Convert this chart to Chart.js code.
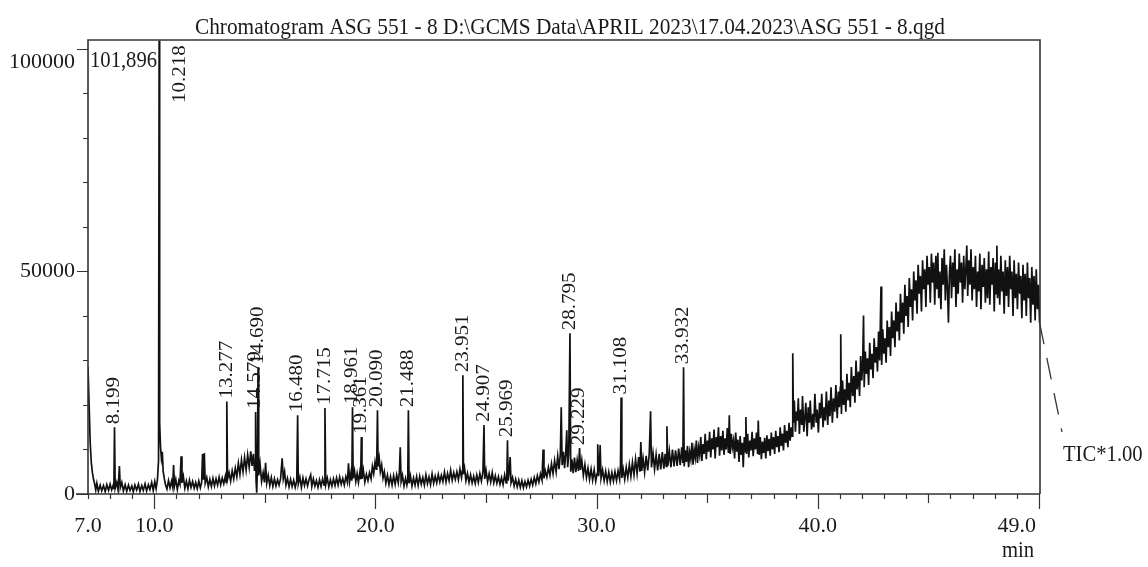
<!DOCTYPE html>
<html><head><meta charset="utf-8">
<script src="https://cdn.jsdelivr.net/npm/chart.js@4.4.0/dist/chart.umd.min.js"></script>
<style>html,body{margin:0;padding:0;background:#fff;}#wrap{width:1148px;height:567px;}</style>
</head><body><div id="wrap"><canvas id="c" width="1148" height="567"></canvas></div>
<script>
const chartTitle = 'Chromatogram ASG 551 - 8 D:\\GCMS Data\\APRIL 2023\\17.04.2023\\ASG 551 - 8.qgd';
const xTickValues = [7.0, 10.0, 20.0, 30.0, 40.0, 49.0];
const yTickValues = [0, 50000, 100000];
const maxIntensityLabel = '101,896';
const detectorLabel = 'TIC*1.00';
const xUnitLabel = 'min';
const peakTimes = [8.199, 10.218, 13.277, 14.579, 14.690, 16.480, 17.715, 18.961, 19.361, 20.090, 21.488, 23.951, 24.907, 25.969, 28.795, 29.229, 31.108, 33.932];
const peakLabels = ['8.199', '10.218', '13.277', '14.579', '14.690', '16.480', '17.715', '18.961', '19.361', '20.090', '21.488', '23.951', '24.907', '25.969', '28.795', '29.229', '31.108', '33.932'];

// TIC trace: [retention time (min), intensity]
const traceSeg1 = [[7.00,28500],[7.05,20000],[7.10,11500],[7.15,7000],[7.20,4800],[7.25,3300],[7.30,2300],[7.35,900],[7.40,2400],[7.47,600],[7.55,2000],[7.62,700],[7.70,1900],[7.78,500],[7.85,2100],[7.93,800],[8.00,2200],[8.07,900],[8.14,2000],[8.17,1100],[8.199,15000],[8.23,1300],[8.30,2600],[8.36,900],[8.42,6300],[8.46,1400],[8.53,2600],[8.60,700],[8.68,2100],[8.75,600],[8.83,2000],[8.90,800],[8.98,1800],[9.05,500],[9.12,2000],[9.20,900],[9.28,2200],[9.35,600],[9.43,1900],[9.50,800],[9.58,2300],[9.65,700],[9.73,2100],[9.80,1000],[9.88,2600],[9.95,800],[10.02,2800],[10.08,1200],[10.14,3200],[10.19,7500],[10.218,101896],[10.24,16000],[10.28,10500],[10.32,8000],[10.36,9500],[10.40,5000],[10.45,3500],[10.50,2200]];
const traceSeg2 = [[10.57,1100],[10.64,3000],[10.71,1400],[10.78,2900],[10.83,1600],[10.87,6500],[10.91,1800],[10.97,3300],[11.04,1000],[11.11,3000],[11.16,2200],[11.21,8500],[11.25,2500],[11.31,4000],[11.38,1300],[11.45,2900],[11.52,1200],[11.59,3100],[11.66,1500],[11.73,2800],[11.80,1300],[11.87,2600],[11.94,1200],[12.01,2900],[12.08,1400],[12.14,2600],[12.18,9000],[12.22,3200],[12.26,9200],[12.30,2400],[12.37,3700],[12.44,1600],[12.51,3300],[12.58,1700],[12.65,3500],[12.72,1800],[12.79,3400],[12.86,2000],[12.93,3800],[13.00,2100],[13.07,3600],[13.14,2300],[13.21,4000],[13.25,2600],[13.277,20800],[13.31,3300],[13.38,4800],[13.45,2900],[13.52,5200],[13.59,3400],[13.66,5800],[13.73,3900],[13.80,6900],[13.87,4400],[13.94,7600],[14.01,5000],[14.08,8200],[14.15,5400],[14.22,8800],[14.29,6000],[14.36,9600],[14.42,6300],[14.48,9000],[14.53,5200],[14.56,7000],[14.579,18400],[14.60,3000],[14.63,300],[14.66,6000],[14.690,28500],[14.72,4200],[14.78,6800],[14.85,2800],[14.92,4800],[14.98,2600],[15.03,7000],[15.08,2400],[15.15,4200],[15.22,1900],[15.29,3700],[15.36,1700],[15.43,3400],[15.50,1800],[15.57,3200],[15.64,2000],[15.71,3500],[15.78,8000],[15.83,3400],[15.89,5000],[15.95,2000],[16.02,3500],[16.09,1600],[16.16,3300],[16.23,1700],[16.30,3100],[16.37,1500],[16.44,3000],[16.480,17700],[16.51,2300],[16.58,3800],[16.65,1500],[16.72,3600],[16.79,1900],[16.86,3400],[16.93,1800],[17.00,3300],[17.07,4300],[17.12,1700],[17.19,3400],[17.26,1800],[17.33,3000],[17.40,1500],[17.47,3200],[17.54,1700],[17.61,3400],[17.68,2000],[17.715,19300],[17.75,2100],[17.82,3600],[17.89,1600],[17.96,3200],[18.03,1800],[18.10,3400],[18.17,1900],[18.24,3600],[18.31,2000],[18.38,3800],[18.45,2200],[18.52,3500],[18.59,2000],[18.66,3900],[18.73,2600],[18.78,6900],[18.83,2800],[18.89,4800],[18.93,3000],[18.961,19500],[18.99,3500],[19.05,5200],[19.11,2800],[19.17,4600],[19.23,2600],[19.29,4800],[19.33,3300],[19.361,12800],[19.39,3400],[19.45,5400],[19.52,2700],[19.59,4400],[19.66,3000],[19.73,4800],[19.80,3400],[19.86,6200],[19.92,4600],[19.98,7200],[20.03,5600],[20.06,8000],[20.090,18800],[20.12,6200],[20.17,8000],[20.22,5000],[20.28,6500]];
const traceSeg3 = [[20.34,3600],[20.40,5000],[20.47,2400],[20.54,4200],[20.61,2100],[20.68,3900],[20.75,2000],[20.82,4100],[20.89,2200],[20.96,4300],[21.03,2500],[21.08,4800],[21.12,10500],[21.16,2800],[21.22,4200],[21.29,1800],[21.36,3500],[21.42,2000],[21.46,3200],[21.488,18800],[21.52,2400],[21.58,4100],[21.65,1800],[21.72,3600],[21.79,2000],[21.86,3900],[21.93,1900],[22.00,4000],[22.07,2200],[22.14,3700],[22.21,2000],[22.28,4300],[22.35,2300],[22.42,3800],[22.49,2100],[22.56,4500],[22.63,2400],[22.70,4000],[22.77,2500],[22.84,4400],[22.91,2700],[22.98,4200],[23.05,2800],[23.12,4900],[23.19,2700],[23.26,4600],[23.33,3000],[23.40,5300],[23.47,3100],[23.54,4800],[23.61,3300],[23.68,5000],[23.75,3200],[23.82,5600],[23.89,3700],[23.93,5200],[23.951,26700],[23.98,4500],[24.03,5800],[24.09,3000],[24.16,4600],[24.23,2600],[24.30,4300],[24.37,2500],[24.44,4000],[24.51,2400],[24.58,4300],[24.65,2600],[24.72,4600],[24.79,2900],[24.86,5000],[24.907,15500],[24.94,3400],[25.00,5300],[25.07,2800],[25.14,4600],[25.21,2700],[25.28,4800],[25.35,2500],[25.42,4100],[25.49,2400],[25.56,3900],[25.63,2200],[25.70,3700],[25.77,2100],[25.84,4300],[25.91,2500],[25.94,3600],[25.969,12100],[26.00,3000],[26.05,5000],[26.09,8300],[26.13,2500],[26.20,3700],[26.27,1800],[26.34,3300],[26.41,1600],[26.48,3100],[26.55,1500],[26.62,3000],[26.69,1400],[26.76,2800],[26.83,1600],[26.90,3100],[26.97,1800],[27.04,3300],[27.11,2000],[27.18,3700],[27.25,2300],[27.32,4100],[27.39,2700],[27.46,4500],[27.53,3100],[27.58,10000],[27.62,3500],[27.68,5200],[27.75,3800],[27.82,6000],[27.89,4200],[27.96,6800],[28.03,4600],[28.10,7500],[28.17,5000],[28.24,8500],[28.30,5600],[28.36,9000],[28.40,19500],[28.44,6500],[28.50,9500],[28.55,5800],[28.60,8800],[28.65,14300],[28.69,6000],[28.74,9000],[28.795,36100],[28.83,5000],[28.88,7800],[28.94,4700],[29.00,8200],[29.06,4900],[29.12,7600],[29.18,5200],[29.229,10300],[29.27,5400],[29.33,7600],[29.40,4200],[29.47,6600]];
const traceSeg4 = [[29.54,3700],[29.61,5800],[29.68,3300],[29.75,5600],[29.82,3100],[29.89,5400],[29.96,2900],[30.02,4600],[30.05,11200],[30.09,4000],[30.13,6000],[30.16,11000],[30.20,3500],[30.27,5400],[30.34,3000],[30.41,5100],[30.48,2800],[30.55,4900],[30.62,2700],[30.69,4800],[30.76,2900],[30.83,5000],[30.90,3000],[30.97,5200],[31.04,3300],[31.08,6500],[31.108,21700],[31.14,3600],[31.20,5600],[31.27,3300],[31.34,6000],[31.41,3700],[31.48,6600],[31.55,4000],[31.62,7100],[31.69,4300],[31.76,7800],[31.83,4600],[31.90,8300],[31.96,5000],[32.00,11700],[32.04,5200],[32.10,8000],[32.17,4900],[32.24,8600],[32.31,5300],[32.38,9000],[32.44,18600],[32.48,6000],[32.55,9200],[32.62,5600],[32.69,8800],[32.76,5300],[32.83,9000],[32.90,5500],[32.97,9400],[33.04,5700],[33.10,9000],[33.15,6200],[33.18,15200],[33.22,6300],[33.29,9600],[33.36,6000],[33.43,10000],[33.50,6200],[33.57,9800],[33.64,6300],[33.71,10200],[33.78,6500],[33.85,10500],[33.90,7000],[33.932,28500],[33.96,6200],[34.01,9800],[34.06,7200],[34.11,10800],[34.16,6000],[34.21,9400],[34.26,7800],[34.31,11500],[34.36,6600],[34.41,10000],[34.46,8200],[34.51,12000],[34.56,7000],[34.61,10500],[34.66,8800],[34.71,12800],[34.76,7400],[34.81,11200],[34.86,9000],[34.91,13500],[34.96,7800],[35.01,12000],[35.06,9500],[35.11,14000],[35.16,8200],[35.21,12500],[35.26,10000],[35.31,14500],[35.36,8000],[35.41,12800],[35.46,10500],[35.51,15000],[35.56,8600],[35.61,13000],[35.66,9800],[35.71,14200],[35.76,8800],[35.81,12500],[35.86,10000],[35.91,14800],[35.96,9200],[36.00,17700],[36.04,9000],[36.09,13500],[36.14,10500],[36.19,12000],[36.24,8000],[36.29,13800],[36.34,9500],[36.39,12200],[36.44,7200],[36.49,13000],[36.54,8800],[36.59,11500],[36.63,6000],[36.68,12800],[36.72,9500],[36.75,17300],[36.78,9000],[36.83,13500],[36.88,8200],[36.93,12000],[36.98,9800],[37.03,14000],[37.08,8500],[37.13,12500],[37.18,10000],[37.23,13800],[37.28,9000],[37.31,16500],[37.35,8800],[37.40,12800],[37.45,7800],[37.50,11800],[37.55,9200],[37.60,12600],[37.65,8000],[37.70,13200],[37.75,9600],[37.80,12400],[37.85,8600],[37.90,13800],[37.95,10000],[38.00,12800],[38.05,9000],[38.10,14200],[38.15,10500],[38.20,13000],[38.25,9400],[38.30,15000],[38.35,10800],[38.40,13600],[38.45,9800],[38.50,15500],[38.55,11500],[38.60,14200],[38.65,10500],[38.70,16000],[38.75,12000],[38.80,15000],[38.84,13000]];
const traceSeg5 = [[38.87,31600],[38.90,16000],[38.94,21000],[38.99,14000],[39.03,18500],[39.08,16500],[39.12,21500],[39.17,13500],[39.22,19000],[39.28,15500],[39.31,22000],[39.37,14000],[39.42,17500],[39.46,20500],[39.52,13000],[39.57,19500],[39.62,16000],[39.66,21000],[39.72,14500],[39.78,18000],[39.82,15000],[39.87,22500],[39.93,16000],[39.97,19000],[40.03,13800],[40.08,20500],[40.13,17000],[40.18,22500],[40.24,15000],[40.29,19500],[40.34,16500],[40.39,23000],[40.45,15500],[40.50,21000],[40.55,17500],[40.60,24000],[40.66,16000],[40.71,21500],[40.77,18500],[40.82,24500],[40.88,17000],[40.93,23000],[40.98,19500],[41.02,24000],[41.04,35900],[41.07,18000],[41.12,25500],[41.17,20000],[41.22,23500],[41.27,18500],[41.32,27000],[41.37,21000],[41.42,25000],[41.47,19500],[41.52,28500],[41.58,22000],[41.63,26500],[41.68,20500],[41.73,30000],[41.78,23500],[41.84,27500],[41.89,22000],[41.94,31000],[41.99,25500],[42.03,29000],[42.07,40100],[42.10,24000],[42.15,32000],[42.20,27000],[42.25,30500],[42.30,24500],[42.35,34000],[42.40,28000],[42.45,31500],[42.50,26000],[42.55,35000],[42.60,29500],[42.65,33000],[42.70,27500],[42.75,36500],[42.80,30000],[42.86,46600],[42.89,29000],[42.94,37000],[42.99,31500],[43.04,35000],[43.09,29500],[43.14,39000],[43.19,33000],[43.24,37500],[43.29,31000],[43.34,41000],[43.39,35000],[43.44,39000],[43.49,33000],[43.54,43000],[43.59,36500],[43.64,41000],[43.69,34500],[43.74,45000],[43.79,38500],[43.84,43000],[43.89,36000],[43.94,47000],[43.99,40000],[44.04,44500],[44.09,37500],[44.14,48500],[44.19,42000],[44.24,46000],[44.29,39000],[44.34,50000],[44.39,43500],[44.44,48000],[44.49,40500],[44.54,51500],[44.59,45000],[44.64,49000],[44.69,41000],[44.74,52500],[44.79,46000],[44.84,50500],[44.89,42000],[44.94,53500],[44.99,47000],[45.04,51000],[45.09,43000],[45.14,54000],[45.19,47500],[45.24,52000],[45.29,42500],[45.34,53500],[45.39,46000],[45.43,54200],[45.47,44000],[45.52,50000],[45.57,41500],[45.62,53000],[45.67,47000],[45.72,55000],[45.77,43500],[45.82,51500],[45.87,45500],[45.91,38500],[45.95,49000],[46.00,53500],[46.05,44000],[46.10,52000],[46.15,46500],[46.20,55000],[46.25,42000],[46.30,50500],[46.35,45000],[46.40,54000],[46.45,47500],[46.50,52000],[46.55,43000],[46.60,53500],[46.65,46000],[46.70,51000],[46.74,55800],[46.78,44500],[46.83,52500],[46.88,47000],[46.93,55000],[46.98,43500],[47.03,51000],[47.08,46000],[47.13,53500],[47.18,42000],[47.23,50000],[47.28,45500],[47.33,54000],[47.38,41500],[47.43,51500],[47.48,46500],[47.53,53000],[47.58,43000],[47.63,50500],[47.68,44000],[47.73,54500],[47.78,42500],[47.83,51000],[47.88,47000],[47.93,53000],[47.98,41000],[48.03,52000],[48.07,45000],[48.10,55800],[48.13,44000],[48.18,50500],[48.23,42500],[48.28,53500],[48.33,45500],[48.38,50000],[48.43,40500],[48.48,52500],[48.53,44500],[48.58,51000],[48.63,42000],[48.68,53500],[48.73,46000],[48.78,50000],[48.83,40000],[48.88,52500],[48.93,44000],[48.98,49500],[49.03,41500],[49.08,52000],[49.13,45000],[49.18,49000],[49.23,39500],[49.28,51500],[49.33,43500],[49.38,49500],[49.43,40000],[49.48,52000],[49.53,44000],[49.58,48500],[49.63,38500],[49.68,51000],[49.73,42500],[49.78,49000],[49.83,39000],[49.88,50500],[49.93,41500],[49.98,47000],[50.03,38500]];

const SERIF = '"Liberation Serif", "Times New Roman", serif';
const traceData = [].concat(traceSeg1, traceSeg2, traceSeg3, traceSeg4, traceSeg5).map(p => ({x: p[0], y: p[1]}));
const peakValueAt = t => { const p = traceData.find(d => Math.abs(d.x - t) < 1e-6); return p ? p.y : 0; };

function squeezedText(ctx, text, x, y, size, sx, align) {
  ctx.save();
  ctx.font = size + 'px ' + SERIF;
  ctx.textBaseline = 'alphabetic';
  ctx.textAlign = align;
  ctx.translate(x, y);
  ctx.scale(sx, 1);
  ctx.fillText(text, 0, 0);
  ctx.restore();
}

const decorPlugin = {
  id: 'decor',
  afterDraw(chart) {
    const ctx = chart.ctx, a = chart.chartArea, xs = chart.scales.x, ys = chart.scales.y;
    ctx.save();
    ctx.strokeStyle = '#333';
    ctx.fillStyle = '#1a1a1a';
    ctx.lineWidth = 1.6;
    ctx.beginPath();
    ctx.moveTo(a.left, a.bottom); ctx.lineTo(a.left, a.top); ctx.lineTo(a.right, a.top); ctx.lineTo(a.right, a.bottom);
    ctx.moveTo(a.left - 12, a.bottom); ctx.lineTo(a.right, a.bottom);
    ctx.stroke();
    // axis tick marks
    ctx.lineWidth = 1.2;
    ctx.beginPath();
    for (let m = 7; m <= 50; m++) {
      const px = Math.round(xs.getPixelForValue(m)) + 0.5;
      const len = m % 10 === 0 ? 15 : (m % 5 === 0 ? 9 : 5);
      ctx.moveTo(px, a.bottom); ctx.lineTo(px, a.bottom + len);
    }
    for (let v = 0; v <= 100000; v += 10000) {
      const py = Math.round(ys.getPixelForValue(v)) + 0.5;
      const len = v % 50000 === 0 ? 11 : 5;
      ctx.moveTo(a.left - len, py); ctx.lineTo(a.left, py);
    }
    ctx.stroke();
    // title
    ctx.font = '24px ' + SERIF;
    const tw = ctx.measureText(chartTitle).width;
    squeezedText(ctx, chartTitle, 570, 34, 24, 750 / tw, 'center');
    // max intensity
    squeezedText(ctx, maxIntensityLabel, a.left + 2, 67, 24, 0.86, 'left');
    // unit label
    squeezedText(ctx, xUnitLabel, 1034, 557, 24, 0.86, 'right');
    // detector label and leader line
    const last = traceData[traceData.length - 1];
    const lx = xs.getPixelForValue(last.x), ly = ys.getPixelForValue(last.y);
    ctx.lineWidth = 1.3;
    ctx.setLineDash([22, 14]);
    ctx.beginPath(); ctx.moveTo(lx, ly); ctx.lineTo(a.right + 22, 432); ctx.stroke();
    ctx.setLineDash([]);
    squeezedText(ctx, detectorLabel, 1063, 461, 24, 0.86, 'left');
    // peak labels
    ctx.font = '21px ' + SERIF;
    peakTimes.forEach((t, i) => {
      const px = xs.getPixelForValue(t);
      let py = ys.getPixelForValue(peakValueAt(t)) - 3;
      let tx = px;
      const w = ctx.measureText(peakLabels[i]).width;
      if (py - w < a.top) { tx = px + 21; py = a.top + 63; }
      ctx.save();
      ctx.translate(tx, py);
      ctx.rotate(-Math.PI / 2);
      ctx.scale(1, 0.88);
      ctx.textAlign = 'left';
      ctx.textBaseline = 'middle';
      ctx.fillText(peakLabels[i], 0, 0);
      ctx.restore();
    });
    ctx.restore();
  }
};

new Chart(document.getElementById('c').getContext('2d'), {
  type: 'line',
  data: { datasets: [{ label: 'TIC', data: traceData, borderColor: '#111', borderWidth: 1.7, pointRadius: 0, tension: 0, fill: false }] },
  options: {
    responsive: false, animation: false, devicePixelRatio: 1,
    layout: { padding: { top: 40, right: 108, left: 0, bottom: 0 } },
    plugins: { legend: { display: false }, tooltip: { enabled: false }, title: { display: false } },
    scales: {
      x: {
        type: 'linear', min: 7, max: 50.05,
        grid: { display: false, drawTicks: false }, border: { display: false },
        afterBuildTicks: s => { s.ticks = xTickValues.map(v => ({ value: v })); },
        afterFit: s => { s.height = 73; },
        ticks: { autoSkip: false, maxRotation: 0, minRotation: 0, padding: 19, color: '#1a1a1a', font: { family: SERIF, size: 22 }, callback: v => Number(v).toFixed(1) }
      },
      y: {
        type: 'linear', min: 0, max: 102000,
        grid: { display: false, drawTicks: false }, border: { display: false },
        afterBuildTicks: s => { s.ticks = yTickValues.map(v => ({ value: v })); },
        afterFit: s => { s.width = 88; },
        ticks: { padding: 13, color: '#1a1a1a', font: { family: SERIF, size: 22 }, callback: v => v === 100000 ? ['', String(v)] : String(v) }
      }
    }
  },
  plugins: [decorPlugin]
});
</script>
</body></html>
